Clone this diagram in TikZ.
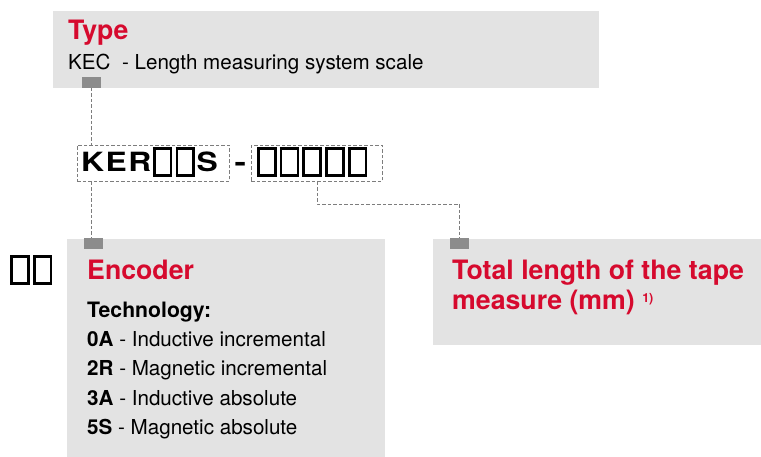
\documentclass[tikz,border=0pt]{standalone}
\usepackage{fontspec}
\usepackage{graphicx}
\setmainfont{TeX Gyre Heros}
\definecolor{boxgray}{RGB}{227,227,227}
\definecolor{markgray}{RGB}{140,140,140}
\definecolor{brandred}{RGB}{214,10,46}
\definecolor{dashgray}{RGB}{125,125,125}
\newcommand\tofu{\kern1.6pt\raisebox{-2.4pt}{\setlength\fboxsep{0pt}\setlength\fboxrule{2.7pt}\fbox{\rule{0pt}{24.6pt}\hspace{14.1pt}}}\kern1.6pt}
\newcommand\wide[1]{\scalebox{1.2}[1]{#1}}
\tikzset{
  panel/.style={fill=boxgray, draw=none, inner sep=0pt, anchor=north west},
  marker/.style={fill=markgray, draw=none, inner sep=0pt, anchor=north west, minimum width=19pt, minimum height=10.5pt},
  dbox/.style={draw=dashgray, dash pattern=on 3.5pt off 2pt, line width=0.9pt, inner sep=0pt, anchor=north west},
  conn/.style={draw=dashgray, dash pattern=on 3.5pt off 2pt, line width=0.9pt},
  ttl/.style={anchor=base west, inner sep=0pt, text=brandred, font=\fontsize{26.7}{30}\selectfont\bfseries},
  body/.style={anchor=base west, inner sep=0pt, font=\fontsize{20.6}{24}\selectfont},
  code/.style={anchor=base west, inner sep=0pt, font=\fontsize{26.5}{30}\selectfont\bfseries},
}
\begin{document}
\begin{tikzpicture}[x=1pt,y=-1pt]
\useasboundingbox (0,0) rectangle (761,457);
% panels
\node[panel, minimum width=546pt, minimum height=77pt] (typebox) at (53,11) {};
\node[panel, minimum width=318pt, minimum height=218pt] (encbox) at (67,239) {};
\node[panel, minimum width=328pt, minimum height=106pt] (totbox) at (433,239) {};
% markers
\node[marker] (m1) at (82,77) {};
\node[marker] (m2) at (84,238) {};
\node[marker] (m3) at (450,238) {};
% type panel text
\node[ttl] (typet) at (68,40) {Type};
\node[body] (typed) at (68,70) {KEC\ \ - Length measuring system scale};
% code
\node[dbox, minimum width=152pt, minimum height=36pt] (kerbox) at (77,145) {};
\node[dbox, minimum width=131pt, minimum height=36pt] (lenbox) at (251,145) {};
\node[code] (kert) at (81,172) {\wide{K}\kern1.5pt\wide{E}\kern1.5pt\wide{R}\tofu\tofu\wide{S}};
\node[code] (dasht) at (234.5,172) {\scalebox{1.3}[1]{-}};
\node[code] (lent) at (255.2,172) {\tofu\tofu\tofu\tofu\tofu};
% connectors
\coordinate (lx) at (91,0);
\coordinate (tapebend) at (317,204);
\draw[conn] (lx |- m1.south) -- (lx |- kerbox.north);
\draw[conn] (lx |- kerbox.south) -- (lx |- m2.north);
\draw[conn] (tapebend |- lenbox.south) -- (tapebend) -| (m3.north);
% encoder panel
\node[code] (lefttofu) at (8.5,280) {\tofu\tofu};
\node[ttl] (enct) at (87,280) {Encoder};
\node[body, font=\fontsize{21.2}{24}\selectfont\bfseries] (tech) at (87,317) {Technology:};
\node[body] (e1) at (87,346.5) {\textbf{0A} - Inductive incremental};
\node[body] (e2) at (87,375.7) {\textbf{2R} - Magnetic incremental};
\node[body] (e3) at (87,405) {\textbf{3A} - Inductive absolute};
\node[body] (e4) at (87,434) {\textbf{5S} - Magnetic absolute};
% total panel
\node[ttl] (tot1) at (452,280) {Total length of the tape};
\node[ttl] (tot2) at (452,310) {measure (mm) \raisebox{8pt}{\fontsize{12.5}{12}\selectfont 1)}};
\end{tikzpicture}
\end{document}
